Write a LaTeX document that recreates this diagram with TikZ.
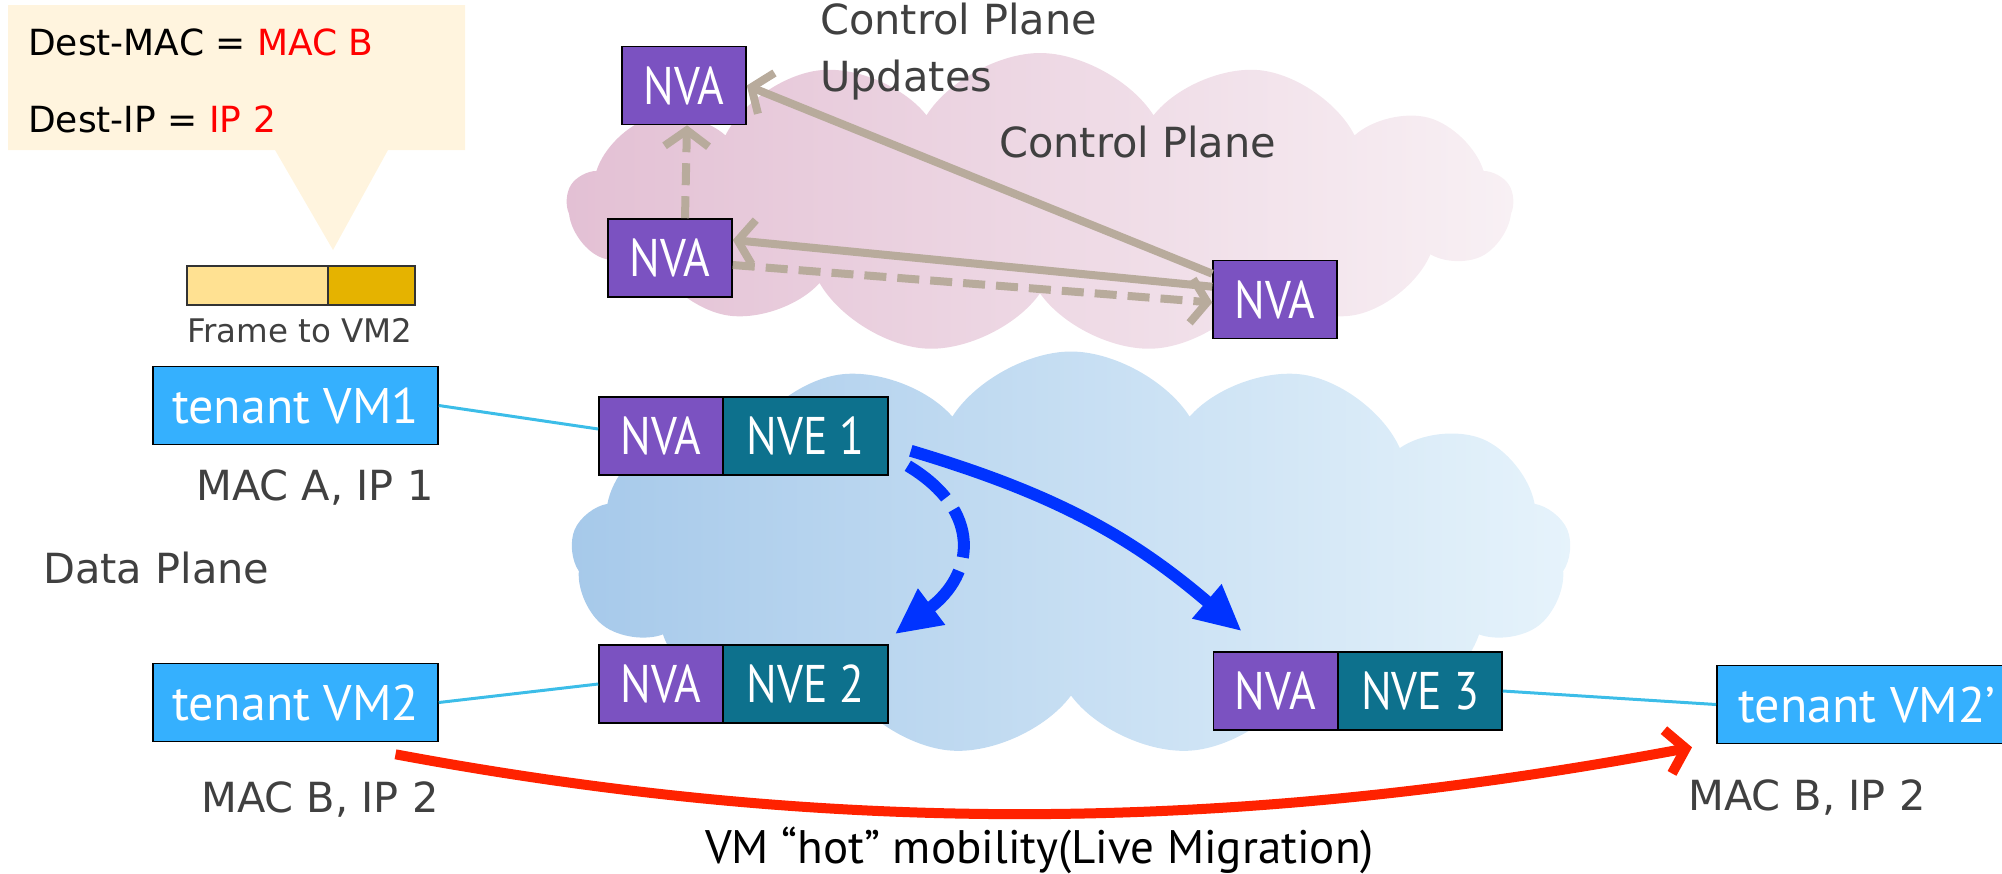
\documentclass[tikz,border=0pt]{standalone}
\usepackage{fontspec}
\setmainfont{PT Sans}
\newfontfamily\boxfont[FakeStretch=0.86]{PT Sans}
\newfontfamily\lblfont{DejaVu Sans}
\usetikzlibrary{arrows.meta,shapes.symbols}
\definecolor{nvapurple}{HTML}{7B52C1}
\definecolor{nveteal}{HTML}{0D718D}
\definecolor{vmblue}{HTML}{35B0FE}
\definecolor{calloutfill}{HTML}{FFF4DE}
\definecolor{framelight}{HTML}{FFE192}
\definecolor{framedark}{HTML}{E5B300}
\definecolor{lblgrey}{HTML}{404040}
\definecolor{taupe}{HTML}{B8AB9C}
\definecolor{linkcyan}{HTML}{3CBDE8}
\definecolor{arrowblue}{HTML}{0033FF}
\definecolor{migred}{HTML}{FF2200}
\definecolor{pinkdark}{HTML}{E3C0D4}
\definecolor{pinklight}{HTML}{F8F0F4}
\definecolor{bluedark}{HTML}{A6C9EA}
\definecolor{bluelight}{HTML}{E6F3FB}
\begin{document}
\begin{tikzpicture}[x=1pt,y=-1pt,
  box/.style={draw=black, line width=1.6pt, text=white, inner sep=0pt, minimum height=78pt, font=\boxfont\fontsize{53}{53}\selectfont},
  nva/.style={box, fill=nvapurple, minimum width=124pt},
  nve/.style={box, fill=nveteal, minimum width=165pt},
  vm/.style={box, fill=vmblue, minimum width=285pt, font=\fontsize{50}{50}\selectfont},
  lbl/.style={text=lblgrey, inner sep=0pt, font=\lblfont\fontsize{41.5}{41.5}\selectfont},
  cp/.style={draw=taupe, line width=8pt, -{Straight Barb[length=16pt,width=44pt]}},
  cpdash/.style={cp, dash pattern=on 22pt off 11pt},
  link/.style={draw=linkcyan, line width=3pt},
  dp/.style={draw=arrowblue, line width=12pt, -{Triangle[length=46pt,width=42pt]}},
  mig/.style={draw=migred, line width=10pt, -{Straight Barb[length=18pt,width=44pt]}},
  cloudshape/.style={cloud, cloud puffs=13, cloud puff arc=115, cloud ignores aspect, draw=none, inner sep=0pt},
  framepart/.style={draw=black!80, line width=1.5pt, minimum height=39pt, inner sep=0pt}
]
\useasboundingbox (0,0) rectangle (2002,873);
\clip (0,0) rectangle (2002,873);

% clouds
\node[cloudshape, minimum width=945pt, minimum height=300pt, left color=pinkdark, right color=pinklight] (cpcloud) at (1040,203) {};
\node[cloudshape, minimum width=1000pt, minimum height=405pt, left color=bluedark, right color=bluelight] (dpcloud) at (1071,554) {};

% callout
\fill[calloutfill] (8,5) -- (465,5) -- (465,150) -- (388,150) -- (333,250) -- (275,150) -- (8,150) -- cycle;
\node[anchor=base west, inner sep=0pt, font=\lblfont\fontsize{36}{36}\selectfont] (destmac) at (28,55) {Dest-MAC = \textcolor{red}{MAC B}};
\node[anchor=base west, inner sep=0pt, font=\lblfont\fontsize{36}{36}\selectfont] (destip) at (28,132) {Dest-IP = \textcolor{red}{IP 2}};

% frame
\node[framepart, fill=framelight, minimum width=141pt] (frameA) at (257.5,285.5) {};
\node[framepart, fill=framedark, minimum width=87pt] (frameB) at (371.5,285.5) {};
\node[anchor=base west, inner sep=0pt, text=lblgrey, font=\lblfont\fontsize{32.5}{32.5}\selectfont] (framelbl) at (187,342) {Frame to VM2};

% control plane
\node[nva] (nvaT) at (684,85.5) {NVA};
\node[nva] (nvaM) at (670,258) {NVA};
\node[nva] (nvaR) at (1275,299.5) {NVA};
\node[lbl, anchor=north west, align=left, font=\lblfont\fontsize{41.5}{57}\selectfont] (cpu) at (820,3) {Control Plane\\Updates};
\node[lbl, anchor=base west] (cplbl) at (999,157) {Control Plane};

\draw[cp] ([yshift=-14pt]nvaR.north west) -- (nvaT.east);
\draw[cp] ([yshift=-27pt]nvaR.north west) -- ([yshift=18pt]nvaM.east);
\draw[cpdash] ([yshift=-7pt]nvaM.east) -- ([yshift=-3pt]nvaR.west);
\draw[cpdash] ([xshift=15pt]nvaM.north) -- ([xshift=3pt]nvaT.south);

% data plane
\node[nva] (nva1) at (661,436) {NVA};
\node[nve] (nve1) at (805.5,436) {NVE 1};
\node[nva] (nva2) at (661,684) {NVA};
\node[nve] (nve2) at (805.5,684) {NVE 2};
\node[nva] (nva3) at (1275.5,691) {NVA};
\node[nve, minimum width=164pt] (nve3) at (1420,691) {NVE 3};

\node[vm] (vm1) at (295.5,405.5) {tenant VM1};
\node[vm] (vm2) at (295.5,702.5) {tenant VM2};
\node[vm, minimum width=300pt, anchor=west] (vm2p) at (1716,704.5) {tenant VM2’};

\node[lbl, anchor=base west] (maca) at (196,500) {MAC A, IP 1};
\node[lbl, anchor=base west] (dplbl) at (43,583) {Data Plane};
\node[lbl, anchor=base west] (macb) at (201,812) {MAC B, IP 2};
\node[lbl, anchor=base west] (macbp) at (1688,810) {MAC B, IP 2};
\node[anchor=base west, inner sep=0pt, font=\fontsize{47}{47}\selectfont] (miglbl) at (705,863) {VM “hot” mobility(Live Migration)};

\draw[link] (vm1.east) -- ([yshift=7pt]nva1.west);
\draw[link] (vm2.east) -- (nva2.west);
\draw[link] (nve3.east) -- (vm2p.west);

\draw[dp] ([xshift=22pt,yshift=25pt]nve1.south east) to[bend left=12] ([xshift=29pt,yshift=20pt]nva3.north west);
\draw[dp, dash pattern=on 50pt off 14pt] ([xshift=19pt,yshift=10pt]nve1.south east) .. controls +(75,45) and +(80,-60) .. ([xshift=6pt,yshift=10pt]nve2.north east);

\coordinate (migstart) at ([xshift=100pt,yshift=-12pt]vm2.south);
\draw[mig] (migstart) .. controls +(450,84) and +(-450,84) .. ([xshift=-24pt,yshift=-3pt]vm2p.south west);
\end{tikzpicture}
\end{document}
